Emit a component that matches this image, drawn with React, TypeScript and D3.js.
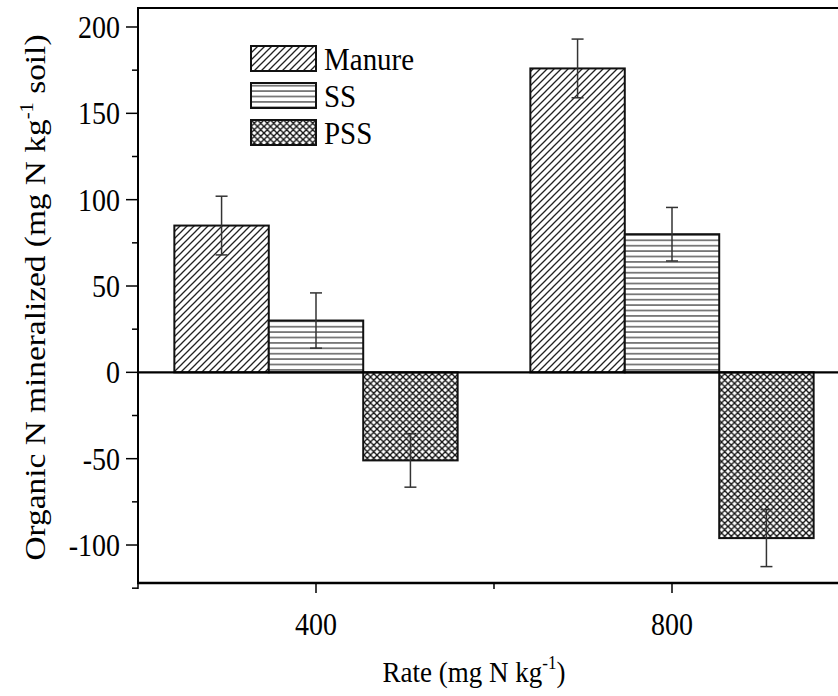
import React from "react";
import * as d3 from "d3";

const rates = ["400", "800"];
const seriesNames = ["Manure", "SS", "PSS"];
const manureValues = [85, 176];
const manureErrors = [17, 17];
const ssValues = [30, 80];
const ssErrors = [16, 15.5];
const pssValues = [-51, -96];
const pssErrors = [15.5, 16.5];
const yTicks = [-100, -50, 0, 50, 100, 150, 200];
const yMinorTicks = [-125, -75, -25, 25, 75, 125, 175];

const W = 838;
const H = 696;
const margin = { left: 138, top: 8, right: -12, bottom: 113 };
const FONT = "Liberation Serif";
const txt = { fontFamily: FONT } as React.CSSProperties;

export default function App() {
  const x0 = d3
    .scaleBand<string>()
    .domain(rates)
    .range([margin.left, W - margin.right])
    .paddingInner(0)
    .paddingOuter(0);
  const x1 = d3
    .scaleBand<string>()
    .domain(seriesNames)
    .range([0, x0.bandwidth()])
    .paddingOuter(0.385)
    .paddingInner(0);
  const y = d3
    .scaleLinear()
    .domain([-122, 211])
    .range([H - margin.bottom, margin.top]);

  const valuesBySeries = [manureValues, ssValues, pssValues];
  const errorsBySeries = [manureErrors, ssErrors, pssErrors];
  const fills = ["url(#pManure)", "url(#pSS)", "url(#pPSS)"];

  const bars: any[] = [];
  rates.forEach((r, i) => {
    seriesNames.forEach((s, j) => {
      bars.push({ r, s, v: valuesBySeries[j][i], e: errorsBySeries[j][i], fill: fills[j] });
    });
  });

  const xAxisY = H - margin.bottom;
  const axisLeft = margin.left;
  const plotRight = W - margin.right;

  return (
    <svg width={W} height={H} style={{ position: "absolute", left: 0, top: 0, background: "#fff" }}>
      <defs>
        <pattern id="pManure" patternUnits="userSpaceOnUse" width="7" height="7">
          <rect width="7" height="7" fill="#fff" />
          <path d="M0,7 L7,0 M-1,1 L1,-1 M6,8 L8,6" stroke="#222" strokeWidth="1.3" />
        </pattern>
        <pattern id="pSS" patternUnits="userSpaceOnUse" width="8" height="5.4">
          <rect width="8" height="5.4" fill="#fff" />
          <line x1="0" x2="8" y1="2.7" y2="2.7" stroke="#444" strokeWidth="1.3" />
        </pattern>
        <pattern id="pPSS" patternUnits="userSpaceOnUse" width="6.5" height="6.5">
          <rect width="6.5" height="6.5" fill="#fff" />
          <path
            d="M0,6.5 L6.5,0 M-1,1 L1,-1 M5.5,7.5 L7.5,5.5 M0,0 L6.5,6.5 M-1,5.5 L1,7.5 M5.5,-1 L7.5,1"
            stroke="#111"
            strokeWidth="1.35"
          />
        </pattern>
      </defs>

      {bars.map((b, k) => {
        const bx = (x0(b.r) as number) + (x1(b.s) as number);
        const bw = x1.bandwidth();
        const y0 = y(0);
        const yv = y(b.v);
        return (
          <rect
            key={"bar" + k}
            x={bx}
            y={Math.min(y0, yv)}
            width={bw}
            height={Math.abs(yv - y0)}
            fill={b.fill}
            stroke="#111"
            strokeWidth={2}
          />
        );
      })}

      {bars.map((b, k) => {
        const cx = (x0(b.r) as number) + (x1(b.s) as number) + x1.bandwidth() / 2;
        const yt = y(b.v + b.e);
        const yb = y(b.v - b.e);
        return (
          <g key={"err" + k} stroke="#333" strokeWidth={1.5}>
            <line x1={cx} x2={cx} y1={yt} y2={yb} />
            <line x1={cx - 6} x2={cx + 6} y1={yt} y2={yt} />
            <line x1={cx - 6} x2={cx + 6} y1={yb} y2={yb} />
          </g>
        );
      })}

      <line x1={axisLeft} x2={plotRight} y1={y(0)} y2={y(0)} stroke="#000" strokeWidth={2.2} />
      <line x1={axisLeft} x2={plotRight} y1={margin.top} y2={margin.top} stroke="#000" strokeWidth={2} />

      <line x1={axisLeft} x2={axisLeft} y1={margin.top - 1} y2={xAxisY + 1} stroke="#000" strokeWidth={2} />
      {yTicks.map((t) => (
        <g key={"yt" + t}>
          <line x1={axisLeft - 12} x2={axisLeft} y1={y(t)} y2={y(t)} stroke="#000" strokeWidth={1.5} />
          <g transform={`translate(${axisLeft - 18}, ${y(t)}) scale(1, 1.12)`}>
            <text y={0} dy="0.35em" textAnchor="end" style={txt} fontSize={28} fill="#000">
              {t}
            </text>
          </g>
        </g>
      ))}
      {yMinorTicks.map((t) => (
        <line key={"ym" + t} x1={axisLeft - 6} x2={axisLeft} y1={y(t)} y2={y(t)} stroke="#000" strokeWidth={1.5} />
      ))}

      <line x1={axisLeft - 1} x2={plotRight} y1={xAxisY} y2={xAxisY} stroke="#000" strokeWidth={2.5} />
      {rates.map((r) => {
        const cx = (x0(r) as number) + x0.bandwidth() / 2;
        return (
          <g key={"xt" + r}>
            <line x1={cx} x2={cx} y1={xAxisY} y2={xAxisY + 10} stroke="#000" strokeWidth={1.5} />
            <g transform={`translate(${cx}, ${xAxisY + 52}) scale(1, 1.12)`}>
              <text textAnchor="middle" style={txt} fontSize={28} fill="#000">
                {r}
              </text>
            </g>
          </g>
        );
      })}
      {[x0.range()[0], x0(rates[1]) as number].map((px, i) => (
        <line key={"xm" + i} x1={px} x2={px} y1={xAxisY} y2={xAxisY + 6} stroke="#000" strokeWidth={1.5} />
      ))}

      <g transform={`translate(${474}, 682) scale(1, 1.12)`}>
        <text textAnchor="middle" style={txt} fontSize={27} fill="#000">
          Rate (mg N kg
          <tspan dy={-12} fontSize={17}>-1</tspan>
          <tspan dy={12}>)</tspan>
        </text>
      </g>
      <g transform={`translate(45, ${(margin.top + xAxisY) / 2 + 2}) rotate(-90) scale(1.15, 1)`}>
        <text textAnchor="middle" style={txt} fontSize={29} fill="#000">
          Organic N mineralized (mg N kg
          <tspan dy={-12} fontSize={18}>-1</tspan>
          <tspan dy={12}> soil)</tspan>
        </text>
      </g>

      {seriesNames.map((s, j) => (
        <g key={"lg" + s} transform={`translate(251, ${46 + j * 37})`}>
          <rect width={65} height={25} fill={fills[j]} stroke="#111" strokeWidth={2} />
          <g transform={`translate(73, 12.5) scale(1, 1.12)`}>
            <text dy="0.35em" style={txt} fontSize={29} fill="#000">
              {s}
            </text>
          </g>
        </g>
      ))}
    </svg>
  );
}
